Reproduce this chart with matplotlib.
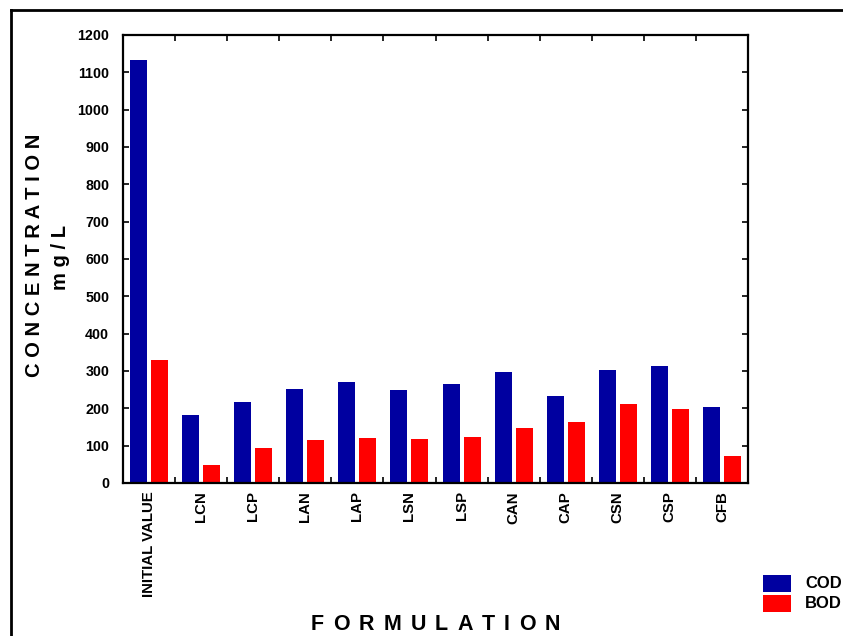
import matplotlib
matplotlib.use("Agg")
import matplotlib.pyplot as plt
import numpy as np
from matplotlib.patches import Rectangle
from matplotlib.lines import Line2D

plt.rcParams['font.family'] = ['Liberation Sans', 'DejaVu Sans']
plt.rcParams['font.weight'] = 'bold'

categories = ["INITIAL VALUE", "LCN", "LCP", "LAN", "LAP", "LSN", "LSP",
              "CAN", "CAP", "CSN", "CSP", "CFB"]
cod = [1133, 183, 218, 253, 271, 250, 266, 298, 234, 304, 314, 204]
bod = [330, 49, 95, 116, 121, 119, 124, 148, 164, 212, 199, 73]
series_names = ["COD", "BOD"]
y_ticks = list(range(0, 1201, 100))
x_title = "FORMULATION"

W, H = 843, 636
fig = plt.figure(figsize=(W / 100, H / 100), dpi=100)

left, right, top, bottom = 123, 748, 35, 483
ax = fig.add_axes([left / W, 1 - bottom / H, (right - left) / W, (bottom - top) / H])

x = np.arange(len(categories))
bw = 0.327
blue = "#0000A0"
red = "#FF0000"
ax.bar(x - 0.202, cod, width=bw, color=blue, linewidth=0)
ax.bar(x + 0.202, bod, width=bw, color=red, linewidth=0)

ax.set_xlim(-0.5, len(categories) - 0.5)
ax.set_ylim(0, 1200)
ax.set_yticks(y_ticks)
ax.set_yticklabels([str(v) for v in y_ticks], fontsize=10.3, fontweight='bold')
ax.set_xticks(x)
ax.set_xticklabels(categories, rotation=90, fontsize=10.8, fontweight='bold')
ax.tick_params(axis='x', which='major', length=0, pad=6)
ax.set_xticks(np.arange(0.5, len(categories) - 0.5, 1), minor=True)
ax.tick_params(axis='x', which='minor', direction='in', length=4, width=1.2,
               top=True, bottom=True)
ax.tick_params(axis='y', which='major', direction='in', length=4, width=1.2,
               left=True, right=True, pad=10)
for s in ax.spines.values():
    s.set_linewidth(1.6)

fig.text(35 / W, 1 - 255 / H, "C O N C E N T R A T I O N", rotation=90,
         ha='center', va='center', fontsize=14.5, fontweight='heavy')
fig.text(60 / W, 1 - 257 / H, "m g / L", rotation=90,
         ha='center', va='center', fontsize=14.5, fontweight='heavy')

# letter-spaced x title: equal gaps between glyph boxes
renderer = fig.canvas.get_renderer()
glyphs = [fig.text(0, 0, ch, ha='left', va='center', fontsize=15.5, fontweight='heavy')
          for ch in x_title]
widths = [g.get_window_extent(renderer).width for g in glyphs]
title_left, title_right = 311, 560
gap = ((title_right - title_left) - sum(widths)) / (len(x_title) - 1)
pos = title_left
for g, w in zip(glyphs, widths):
    g.set_position((pos / W, 1 - 624 / H))
    pos += w + gap

# legend drawn in figure coordinates
for i, (name, col) in enumerate(zip(series_names, [blue, red])):
    y0 = 575 + i * 20
    fig.patches.append(Rectangle((763 / W, 1 - (y0 + 17) / H), 28 / W, 17 / H,
                                 transform=fig.transFigure, color=col, linewidth=0))
    fig.text(805 / W, 1 - (y0 + 8.5) / H, name, ha='left', va='center',
             fontsize=12, fontweight='bold')

# outer frame
fig.add_artist(Line2D([11 / W, 11 / W], [0, 1 - 10 / H], transform=fig.transFigure,
                      color='black', linewidth=2))
fig.add_artist(Line2D([11 / W, 1], [1 - 10 / H, 1 - 10 / H], transform=fig.transFigure,
                      color='black', linewidth=2))

fig.savefig("out.png", dpi=100)
